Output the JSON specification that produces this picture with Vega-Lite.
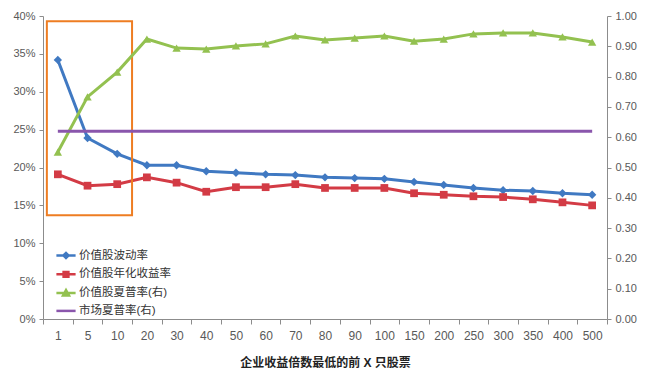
{
  "$schema": "https://vega.github.io/schema/vega-lite/v6.json",
  "width": 564,
  "height": 303,
  "autosize": {"type": "none"},
  "padding": {"left": 43, "top": 16, "right": 40, "bottom": 64},
  "background": "white",
  "config": {
    "view": {"stroke": null},
    "font": "Liberation Sans, Noto Sans CJK SC",
    "axis": {"grid": false, "domainColor": "#8c8c8c", "tickColor": "#8c8c8c", "labelColor": "#595959", "labelFontSize": 11, "tickSize": 4, "titleColor": "#222"}
  },
  "datasets": {
    "main": [
      {"x": "1", "s": "价值股波动率", "v": 0.342},
      {"x": "5", "s": "价值股波动率", "v": 0.239},
      {"x": "10", "s": "价值股波动率", "v": 0.218},
      {"x": "20", "s": "价值股波动率", "v": 0.203},
      {"x": "30", "s": "价值股波动率", "v": 0.203},
      {"x": "40", "s": "价值股波动率", "v": 0.195},
      {"x": "50", "s": "价值股波动率", "v": 0.193},
      {"x": "60", "s": "价值股波动率", "v": 0.191},
      {"x": "70", "s": "价值股波动率", "v": 0.190},
      {"x": "80", "s": "价值股波动率", "v": 0.187},
      {"x": "90", "s": "价值股波动率", "v": 0.186},
      {"x": "100", "s": "价值股波动率", "v": 0.185},
      {"x": "150", "s": "价值股波动率", "v": 0.181},
      {"x": "200", "s": "价值股波动率", "v": 0.177},
      {"x": "250", "s": "价值股波动率", "v": 0.173},
      {"x": "300", "s": "价值股波动率", "v": 0.170},
      {"x": "350", "s": "价值股波动率", "v": 0.169},
      {"x": "400", "s": "价值股波动率", "v": 0.166},
      {"x": "500", "s": "价值股波动率", "v": 0.164},
      {"x": "1", "s": "价值股年化收益率", "v": 0.191},
      {"x": "5", "s": "价值股年化收益率", "v": 0.176},
      {"x": "10", "s": "价值股年化收益率", "v": 0.178},
      {"x": "20", "s": "价值股年化收益率", "v": 0.187},
      {"x": "30", "s": "价值股年化收益率", "v": 0.180},
      {"x": "40", "s": "价值股年化收益率", "v": 0.168},
      {"x": "50", "s": "价值股年化收益率", "v": 0.174},
      {"x": "60", "s": "价值股年化收益率", "v": 0.174},
      {"x": "70", "s": "价值股年化收益率", "v": 0.178},
      {"x": "80", "s": "价值股年化收益率", "v": 0.173},
      {"x": "90", "s": "价值股年化收益率", "v": 0.173},
      {"x": "100", "s": "价值股年化收益率", "v": 0.173},
      {"x": "150", "s": "价值股年化收益率", "v": 0.166},
      {"x": "200", "s": "价值股年化收益率", "v": 0.164},
      {"x": "250", "s": "价值股年化收益率", "v": 0.162},
      {"x": "300", "s": "价值股年化收益率", "v": 0.161},
      {"x": "350", "s": "价值股年化收益率", "v": 0.158},
      {"x": "400", "s": "价值股年化收益率", "v": 0.154},
      {"x": "500", "s": "价值股年化收益率", "v": 0.150},
      {"x": "1", "s": "价值股夏普率(右)", "v": 0.551},
      {"x": "5", "s": "价值股夏普率(右)", "v": 0.733},
      {"x": "10", "s": "价值股夏普率(右)", "v": 0.815},
      {"x": "20", "s": "价值股夏普率(右)", "v": 0.924},
      {"x": "30", "s": "价值股夏普率(右)", "v": 0.894},
      {"x": "40", "s": "价值股夏普率(右)", "v": 0.891},
      {"x": "50", "s": "价值股夏普率(右)", "v": 0.901},
      {"x": "60", "s": "价值股夏普率(右)", "v": 0.908},
      {"x": "70", "s": "价值股夏普率(右)", "v": 0.934},
      {"x": "80", "s": "价值股夏普率(右)", "v": 0.921},
      {"x": "90", "s": "价值股夏普率(右)", "v": 0.927},
      {"x": "100", "s": "价值股夏普率(右)", "v": 0.934},
      {"x": "150", "s": "价值股夏普率(右)", "v": 0.917},
      {"x": "200", "s": "价值股夏普率(右)", "v": 0.924},
      {"x": "250", "s": "价值股夏普率(右)", "v": 0.941},
      {"x": "300", "s": "价值股夏普率(右)", "v": 0.944},
      {"x": "350", "s": "价值股夏普率(右)", "v": 0.944},
      {"x": "400", "s": "价值股夏普率(右)", "v": 0.931},
      {"x": "500", "s": "价值股夏普率(右)", "v": 0.914},
      {"x": "1", "s": "市场夏普率(右)", "v": 0.62},
      {"x": "5", "s": "市场夏普率(右)", "v": 0.62},
      {"x": "10", "s": "市场夏普率(右)", "v": 0.62},
      {"x": "20", "s": "市场夏普率(右)", "v": 0.62},
      {"x": "30", "s": "市场夏普率(右)", "v": 0.62},
      {"x": "40", "s": "市场夏普率(右)", "v": 0.62},
      {"x": "50", "s": "市场夏普率(右)", "v": 0.62},
      {"x": "60", "s": "市场夏普率(右)", "v": 0.62},
      {"x": "70", "s": "市场夏普率(右)", "v": 0.62},
      {"x": "80", "s": "市场夏普率(右)", "v": 0.62},
      {"x": "90", "s": "市场夏普率(右)", "v": 0.62},
      {"x": "100", "s": "市场夏普率(右)", "v": 0.62},
      {"x": "150", "s": "市场夏普率(右)", "v": 0.62},
      {"x": "200", "s": "市场夏普率(右)", "v": 0.62},
      {"x": "250", "s": "市场夏普率(右)", "v": 0.62},
      {"x": "300", "s": "市场夏普率(右)", "v": 0.62},
      {"x": "350", "s": "市场夏普率(右)", "v": 0.62},
      {"x": "400", "s": "市场夏普率(右)", "v": 0.62},
      {"x": "500", "s": "市场夏普率(右)", "v": 0.62}
    ],
    "box": [{"from": "1", "to": "10", "top": 0.393, "bottom": 0.137}]
  },
  "layer": [
    {
      "encoding": {
        "x": {"field": "x", "type": "ordinal", "scale": {"domain": ["1","5","10","20","30","40","50","60","70","80","90","100","150","200","250","300","350","400","500"], "paddingInner": 0, "paddingOuter": 0},
          "axis": {"title": "企业收益倍数最低的前 X 只股票", "titleFontWeight": "bold", "titleFontSize": 12, "titlePadding": 16, "labelAngle": 0, "labelFontSize": 12, "labelPadding": 6, "tickBand": "extent", "tickSize": 5}},
        "y": {"field": "v", "type": "quantitative", "scale": {"domain": [0, 0.4]},
          "axis": {"orient": "left", "title": null, "format": ".0%", "values": [0,0.05,0.1,0.15,0.2,0.25,0.3,0.35,0.4], "labelPadding": 4}}
      },
      "layer": [
        {
          "data": {"name": "main"},
          "transform": [{"filter": {"field": "s", "oneOf": ["价值股波动率", "价值股年化收益率"]}}],
          "mark": {"type": "line", "strokeWidth": 3},
          "encoding": {
            "color": {"field": "s", "type": "nominal",
              "scale": {"domain": ["价值股波动率", "价值股年化收益率", "价值股夏普率(右)", "市场夏普率(右)"], "range": ["#4079C2", "#D33B45", "#93C150", "#8A56AC"]},
              "legend": {"orient": "none", "legendX": 15.5, "legendY": 232, "title": null, "labelFontSize": 11.5, "labelColor": "#333", "symbolSize": 144, "symbolStrokeWidth": 2.5, "rowPadding": 2.8, "labelOffset": 5.5,
                "encode": {"symbols": {"update": {
                  "shape": {"signal": "datum.value==='价值股波动率'?'M-1.6,0H1.6M-0.42,0L0,-0.42L0.42,0L0,0.42Z':datum.value==='价值股年化收益率'?'M-1.6,0H1.6M-0.4,-0.4H0.4V0.4H-0.4Z':datum.value==='价值股夏普率(右)'?'M-1.6,0H1.6M-0.5,0.4L0,-0.5L0.5,0.4Z':'M-1.6,0H1.6'"},
                  "fill": {"scale": "color", "field": "value"},
                  "stroke": {"scale": "color", "field": "value"}}}}}}
          }
        },
        {
          "data": {"name": "main"},
          "transform": [{"filter": {"field": "s", "oneOf": ["价值股波动率", "价值股年化收益率"]}}],
          "mark": {"type": "point", "filled": true, "opacity": 1},
          "encoding": {
            "color": {"field": "s", "type": "nominal"},
            "shape": {"field": "s", "type": "nominal", "scale": {"domain": ["价值股波动率", "价值股年化收益率"], "range": ["diamond", "square"]}, "legend": null},
            "size": {"field": "s", "type": "nominal", "scale": {"domain": ["价值股波动率", "价值股年化收益率"], "range": [70, 60]}, "legend": null}
          }
        },
        {
          "data": {"name": "box"},
          "mark": {"type": "rect", "filled": false, "stroke": "#EE7D22", "strokeWidth": 2},
          "encoding": {
            "x": {"field": "from", "type": "ordinal", "bandPosition": 0.13},
            "x2": {"field": "to", "bandPosition": 1},
            "y": {"field": "top", "type": "quantitative"},
            "y2": {"field": "bottom"}
          }
        }
      ]
    },
    {
      "data": {"name": "main"},
      "encoding": {
        "x": {"field": "x", "type": "ordinal"},
        "y": {"field": "v", "type": "quantitative", "scale": {"domain": [0, 1]},
          "axis": {"orient": "right", "title": null, "format": ".2f", "values": [0,0.1,0.2,0.3,0.4,0.5,0.6,0.7,0.8,0.9,1.0], "labelPadding": 4}}
      },
      "layer": [
        {
          "transform": [{"filter": {"field": "s", "oneOf": ["价值股夏普率(右)", "市场夏普率(右)"]}}],
          "mark": {"type": "line", "strokeWidth": 3},
          "encoding": {"color": {"field": "s", "type": "nominal"}}
        },
        {
          "transform": [{"filter": {"field": "s", "equal": "价值股夏普率(右)"}}],
          "mark": {"type": "point", "filled": true, "opacity": 1, "shape": "triangle-up", "size": 70},
          "encoding": {"color": {"field": "s", "type": "nominal"}}
        }
      ]
    }
  ],
  "resolve": {"scale": {"y": "independent"}}
}
